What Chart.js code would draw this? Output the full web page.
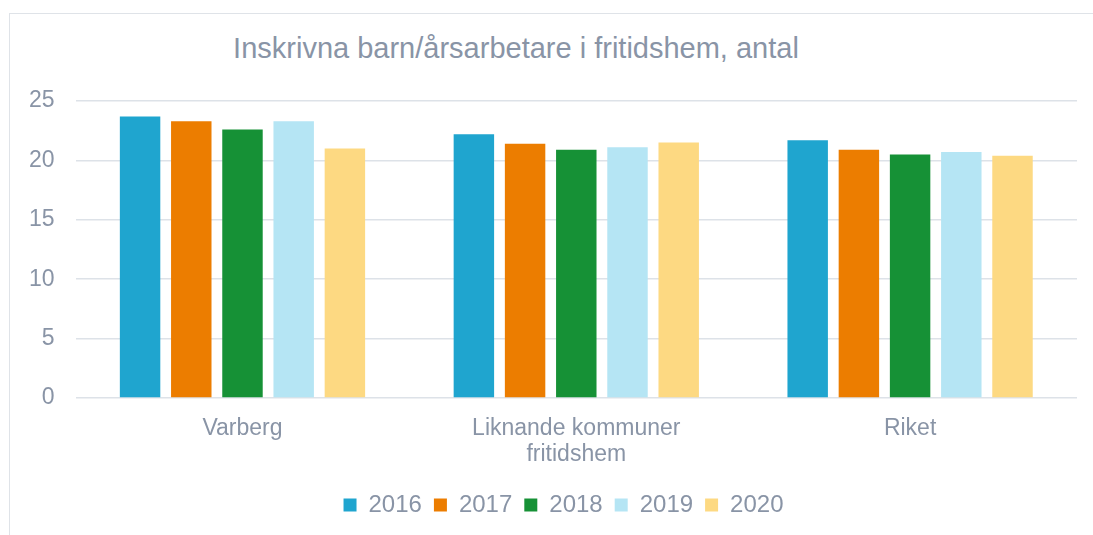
<!DOCTYPE html>
<html>
<head>
<meta charset="utf-8">
<script src="https://cdn.jsdelivr.net/npm/chart.js@4/dist/chart.umd.min.js"></script>
<style>
    body { margin: 0; background: #fff; }
    #wrap { position: relative; width: 1093px; height: 535px; overflow: hidden; }
    #frame { position: absolute; left: 9px; top: 13px; width: 1200px; height: 600px; border: 1px solid #dfe3e8; }
    #title { position: absolute; left: 0; top: 31px; width: 1032px; text-align: center;
             font: 29px "Liberation Sans", Arial, sans-serif; color: #8994a6; line-height: 34px; }
    #chartBox { position: absolute; left: 0; top: 0; width: 1093px; height: 535px; }
</style>
</head>
<body>
<div id="wrap">
    <div id="frame"></div>
    <div id="title">Inskrivna barn/årsarbetare i fritidshem, antal</div>
    <div id="chartBox"><canvas id="barChart"></canvas></div>
</div>
<script>
const categories = ['Varberg', ['Liknande kommuner', 'fritidshem'], 'Riket'];
const years = ['2016', '2017', '2018', '2019', '2020'];
const values2016 = [23.7, 22.2, 21.7];
const values2017 = [23.3, 21.4, 20.9];
const values2018 = [22.6, 20.9, 20.5];
const values2019 = [23.3, 21.1, 20.7];
const values2020 = [21.0, 21.5, 20.4];
const yTicks = [0, 5, 10, 15, 20, 25];

const seriesValues = [values2016, values2017, values2018, values2019, values2020];
const colors = ['#1fa5cf', '#ec7d00', '#169136', '#b5e5f4', '#fdd982'];
const textColor = '#8994a6';
const fontFamily = '"Liberation Sans", Arial, sans-serif';

// legend in the original sits a bit right of the canvas centre
const legendShift = {
    id: 'legendShift',
    afterLayout(chart) {
        if (chart.legend) {
            chart.legend.left += 21;
            chart.legend.right += 21;
        }
    }
};

document.addEventListener('DOMContentLoaded', function() {
    const ctx = document.getElementById('barChart').getContext('2d');

    const chartData = {
        labels: categories,
        datasets: years.map((year, i) => ({
            label: year,
            data: seriesValues[i],
            backgroundColor: colors[i],
            borderWidth: 0,
            categoryPercentage: 0.767,
            barPercentage: 0.79
        }))
    };

    new Chart(ctx, {
        type: 'bar',
        data: chartData,
        plugins: [legendShift],
        options: {
            responsive: true,
            maintainAspectRatio: false,
            animation: false,
            layout: { padding: { top: 101, left: 8, right: 16, bottom: 8 } },
            plugins: {
                title: { display: false },
                tooltip: { enabled: false },
                legend: {
                    position: 'bottom',
                    labels: {
                        boxWidth: 13,
                        boxHeight: 13,
                        padding: 12,
                        color: textColor,
                        font: { family: fontFamily, size: 24 }
                    }
                }
            },
            scales: {
                x: {
                    grid: { display: false, drawTicks: false },
                    border: { display: false },
                    ticks: {
                        color: textColor,
                        padding: 18,
                        maxRotation: 0,
                        font: { family: fontFamily, size: 23, lineHeight: 1.13 }
                    },
                    afterFit: function(scale) { scale.height = 83; }
                },
                y: {
                    min: 0,
                    max: 25,
                    afterBuildTicks: function(scale) {
                        scale.ticks = yTicks.map(v => ({ value: v }));
                    },
                    grid: { color: '#dde2e8', lineWidth: 1.5, drawTicks: false },
                    border: { display: false },
                    ticks: {
                        color: textColor,
                        padding: 21,
                        font: { family: fontFamily, size: 23 }
                    }
                }
            }
        }
    });
});
</script>
</body>
</html>
